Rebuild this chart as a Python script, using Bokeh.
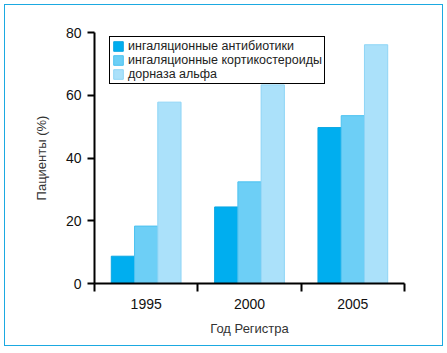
from bokeh.plotting import figure
from bokeh.models import ColumnDataSource, FixedTicker, Legend, LegendItem, Range1d
from bokeh.embed import file_html
from bokeh.resources import INLINE

years = ["1995", "2000", "2005"]
series_names = ["ингаляционные антибиотики", "ингаляционные кортикостероиды", "дорназа альфа"]
antibiotics = [8.7, 24.4, 49.7]
corticosteroids = [18.3, 32.4, 53.5]
dornase = [57.8, 63.3, 76.1]
y_ticks = [0, 20, 40, 60, 80]

fills = ["#00aeef", "#6dcff6", "#abe1fa"]
lines = ["#0aa6e2", "#4cc2f0", "#8fd5f6"]
offsets = [-0.225, 0.0, 0.225]
bar_w = 0.225

p = figure(width=439, height=342, output_backend="svg", toolbar_location=None,
           x_range=Range1d(0, len(years)), y_range=Range1d(0, 80),
           min_border_left=89, min_border_right=40, min_border_top=27, min_border_bottom=64)
p.margin = (4, 0, 0, 4)
p.styles = {"border": "1.5px solid #1ba9e1", "box-sizing": "border-box"}
p.outline_line_color = None
p.grid.visible = False

centers = [i + 0.5 for i in range(len(years))]
items = []
for vals, name, fc, lc, off in zip([antibiotics, corticosteroids, dornase], series_names, fills, lines, offsets):
    src = ColumnDataSource(dict(x=[c + off for c in centers], top=vals))
    r = p.vbar(x="x", top="top", width=bar_w, bottom=0, source=src, fill_color=fc, line_color=lc, line_width=1)
    items.append(LegendItem(label=name, renderers=[r]))

font = "Liberation Sans"
p.xaxis.ticker = FixedTicker(ticks=centers, minor_ticks=list(range(len(years) + 1)))
p.xaxis.major_label_overrides = {c: y for c, y in zip(centers, years)}
p.xaxis.major_tick_line_color = None
p.xaxis.minor_tick_line_color = "black"
p.xaxis.minor_tick_line_width = 2
p.xaxis.minor_tick_out = 8
p.xaxis.minor_tick_in = 0
p.xaxis.axis_label = "Год Регистра"

p.yaxis.ticker = FixedTicker(ticks=y_ticks)
p.yaxis.minor_tick_line_color = None
p.yaxis.major_tick_out = 7
p.yaxis.major_tick_in = 0
p.yaxis.major_tick_line_width = 2
p.yaxis.axis_label = "Пациенты (%)"

for ax in [p.xaxis[0], p.yaxis[0]]:
    ax.axis_line_width = 2
    ax.axis_line_color = "black"
    ax.major_label_text_font = font
    ax.major_label_text_font_size = "14px"
    ax.major_label_text_color = "#111111"
    ax.axis_label_text_font = font
    ax.axis_label_text_font_size = "13px"
    ax.axis_label_text_font_style = "normal"
    ax.axis_label_text_color = "#333333"
p.xaxis.major_label_standoff = 7
p.xaxis.axis_label_standoff = 9
p.yaxis.major_label_standoff = 6
p.yaxis.axis_label_standoff = 14

legend = Legend(items=items, location=(15, 199), orientation="vertical",
                label_text_font=font, label_text_font_size="12.5px", label_text_color="#222222",
                label_text_line_height=1.0,
                glyph_width=12, glyph_height=12, label_height=13, spacing=0,
                padding=2, margin=0, label_standoff=4,
                border_line_color="black", border_line_width=1.2, border_line_alpha=1,
                background_fill_color="white", background_fill_alpha=1)
p.add_layout(legend, "center")

open("out.html", "w").write(file_html(p, INLINE))
